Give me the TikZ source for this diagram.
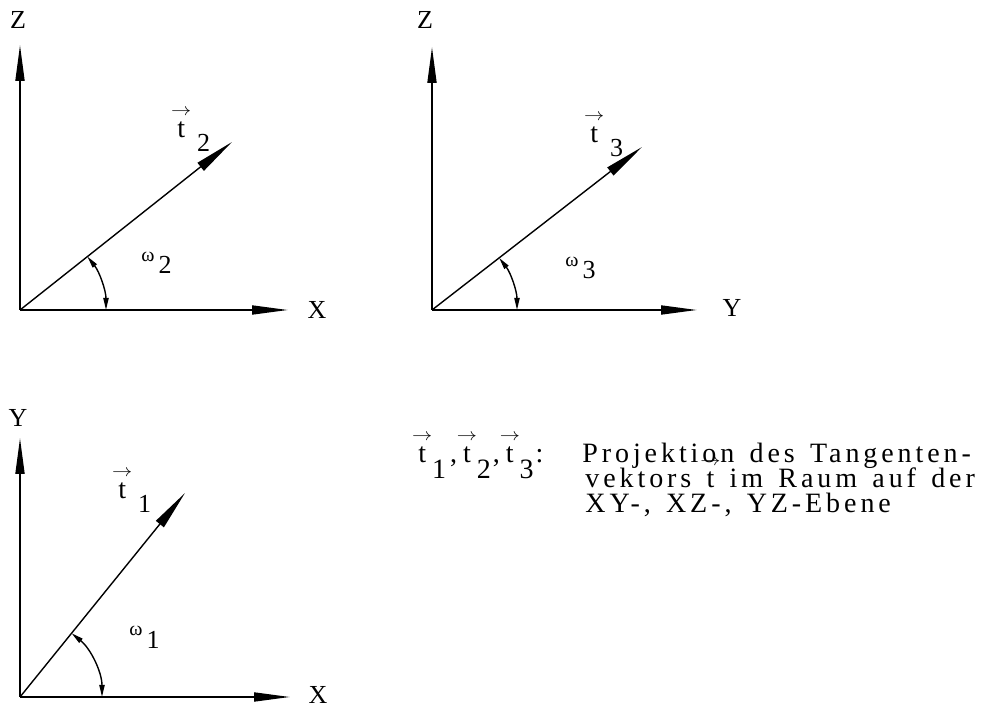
\documentclass[tikz,border=0pt]{standalone}
\usepackage{fontspec}
\setmainfont{Liberation Serif}
\newfontfamily\spaced[LetterSpace=14,WordSpace=1.4]{Liberation Serif}
\usetikzlibrary{arrows.meta}
\newcommand\myvt{\leavevmode\setbox0\hbox{t}\hbox to \wd0{\hss\raisebox{0.8em}{\scalebox{0.7}[0.6]{$\rightarrow$}}\hss}\kern-\wd0\box0}
\tikzset{
  axis/.style={line width=0.9pt, -{Triangle[length=18pt,width=4.5pt]}},
  vect/.style={line width=0.7pt, -{Triangle[length=20pt,width=5pt]}},
  anglearc/.style={line width=0.7pt, {Triangle[length=6pt,width=2.6pt]}-{Triangle[length=6pt,width=2.6pt]}},
  axlabel/.style={font=\fontsize{13}{15}\selectfont, inner sep=0pt},
  veclabel/.style={font=\fontsize{14}{16}\selectfont, inner sep=0pt, anchor=base west},
  anglabel/.style={font=\fontsize{10}{12}\selectfont, inner sep=0pt, anchor=base west},
  body/.style={font=\fontsize{14}{16}\spaced, inner sep=0pt}
}
\begin{document}
\begin{tikzpicture}[x=0.5pt,y=0.5pt]
\useasboundingbox (0,0) rectangle (987,708);
% ---------- panel 1 (X-Z) ----------
\coordinate (O1) at (20,398);
\coordinate (Z1) at (20,663);
\coordinate (X1) at (288,398);
\coordinate (T2) at (232,566);
\draw[axis] (O1) -- (Z1);
\draw[axis] (O1) -- (X1);
\draw[vect] (O1) -- (T2);
\draw[anglearc] ([shift={(43pt,0)}]O1) arc[start angle=0,end angle=38.4,radius=43pt];
\node[axlabel] (lz1) at (18,688) {Z};
\node[axlabel] (lx1) at (317,398) {X};
\node[veclabel] (lt2) at (177,570) {\myvt\hspace{6pt}\raisebox{-7pt}{\fontsize{13}{14}\selectfont 2}};
\node[anglabel] (lw2) at (141,446) {ω\hspace{2pt}\raisebox{-6pt}{\fontsize{13}{14}\selectfont 2}};
% ---------- panel 2 (Y-Z) ----------
\coordinate (O2) at (432,398);
\coordinate (Z2) at (432,661);
\coordinate (Y2) at (697,398);
\coordinate (T3) at (642,561);
\draw[axis] (O2) -- (Z2);
\draw[axis] (O2) -- (Y2);
\draw[vect] (O2) -- (T3);
\draw[anglearc] ([shift={(42.5pt,0)}]O2) arc[start angle=0,end angle=37.8,radius=42.5pt];
\node[axlabel] (lz2) at (425,688) {Z};
\node[axlabel] (ly2) at (732,400) {Y};
\node[veclabel] (lt3) at (590,565) {\myvt\hspace{6pt}\raisebox{-7pt}{\fontsize{13}{14}\selectfont 3}};
\node[anglabel] (lw3) at (565,441) {ω\hspace{2pt}\raisebox{-6pt}{\fontsize{13}{14}\selectfont 3}};
% ---------- panel 3 (X-Y) ----------
\coordinate (O3) at (20,11);
\coordinate (Y3) at (20,270);
\coordinate (X3) at (290,11);
\coordinate (T1) at (185,215);
\draw[axis] (O3) -- (Y3);
\draw[axis] (O3) -- (X3);
\draw[vect] (O3) -- (T1);
\draw[anglearc] ([shift={(41pt,0)}]O3) arc[start angle=0,end angle=51,radius=41pt];
\node[axlabel] (ly3) at (18,290) {Y};
\node[axlabel] (lx3) at (318,13) {X};
\node[veclabel] (lt1) at (118,209) {\myvt\hspace{6pt}\raisebox{-7pt}{\fontsize{13}{14}\selectfont 1}};
\node[anglabel] (lw1) at (129,72) {ω\hspace{2pt}\raisebox{-6pt}{\fontsize{13}{14}\selectfont 1}};
% ---------- caption ----------
\node[body, anchor=base west] (pre) at (418,245) {\myvt\hspace{3pt}\raisebox{-8pt}{1}\hspace{2pt},\hspace{3pt}\myvt\hspace{3pt}\raisebox{-8pt}{2}\hspace{1pt},\hspace{3pt}\myvt\hspace{3pt}\raisebox{-8pt}{3}\hspace{1pt}:};
\node[body, anchor=base west] (l1) at (582,245) {Projektion des Tangenten-};
\node[body, anchor=base west] (l2) at (585,220) {vektors \myvt{} im Raum auf der};
\node[body, anchor=base west] (l3) at (585,195) {XY-, XZ-, YZ-Ebene};
\end{tikzpicture}
\end{document}
